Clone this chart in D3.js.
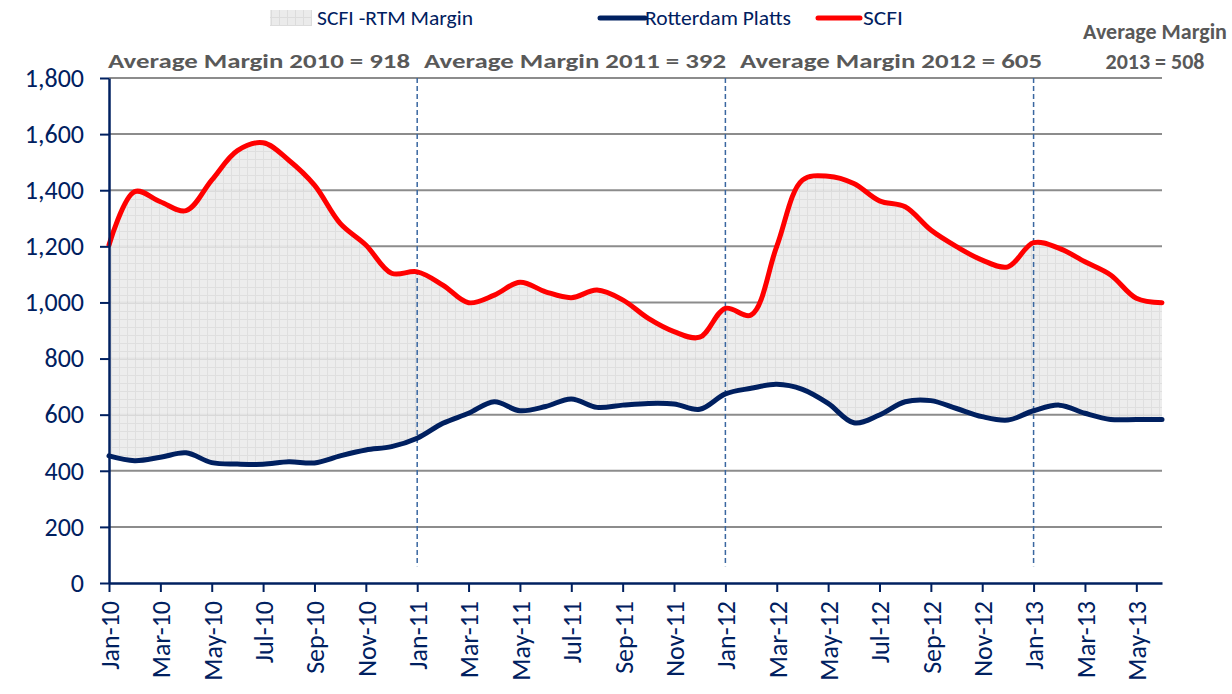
<!DOCTYPE html>
<html>
<head>
<meta charset="utf-8">
<script src="https://cdn.jsdelivr.net/npm/d3@7"></script>
<style>
  body { margin: 0; background: #fff; }
  text { font-family: Calibri, Carlito, "Open Sans", sans-serif; }
</style>
</head>
<body>
<div id="chart"></div>
<script>
// monthly data Jan-10 .. Jun-13
var months = ["Jan-10","Feb-10","Mar-10","Apr-10","May-10","Jun-10","Jul-10","Aug-10","Sep-10","Oct-10","Nov-10","Dec-10",
  "Jan-11","Feb-11","Mar-11","Apr-11","May-11","Jun-11","Jul-11","Aug-11","Sep-11","Oct-11","Nov-11","Dec-11",
  "Jan-12","Feb-12","Mar-12","Apr-12","May-12","Jun-12","Jul-12","Aug-12","Sep-12","Oct-12","Nov-12","Dec-12",
  "Jan-13","Feb-13","Mar-13","Apr-13","May-13","Jun-13"];

var scfi = [1205,1395,1359,1327,1436,1541,1569,1507,1418,1282,1205,1104,
  1109,1062,999,1026,1072,1038,1017,1044,1009,943,896,876,
  979,955,1200,1436,1450,1424,1362,1341,1258,1199,1151,1127,
  1213,1193,1145,1098,1015,999];

var rotterdam = [453,436,448,464,429,424,423,432,428,453,474,486,
  516,569,605,646,614,629,656,626,634,640,638,619,
  674,694,708,690,640,571,599,646,650,622,593,581,
  614,634,605,583,583,583];

var yTicks = [0,200,400,600,800,1000,1200,1400,1600,1800];
var yearStarts = ["Jan-11","Jan-12","Jan-13"];
var marginNotes = ["Average Margin 2010 = 918", "Average Margin 2011 = 392", "Average Margin 2012 = 605"];
var note2013 = ["Average Margin", "2013 = 508"];

var width = 1232, height = 694;
var mLeft = 109, mRight = 1162, mTop = 78, mBottom = 583;
var navy = "#002060";

var svg = d3.select("#chart").append("svg")
  .attr("width", width)
  .attr("height", height);

// hatch-like fill for the margin band
var defs = svg.append("defs");
var pat = defs.append("pattern")
  .attr("id", "margin")
  .attr("width", 8).attr("height", 8)
  .attr("patternUnits", "userSpaceOnUse");
pat.append("rect").attr("width", 8).attr("height", 8).attr("fill", "#ebebeb");
pat.append("path").attr("d", "M0,7.5H8M7.5,0V8").attr("stroke", "#dcdcdc").attr("stroke-width", 1);

var x = d3.scalePoint().domain(months).range([mLeft, mRight]);
var y = d3.scaleLinear().domain([0, 1800]).range([mBottom, mTop]);

var data = months.map(function(m, i) { return {m: m, s: scfi[i], r: rotterdam[i]}; });

// gridlines
svg.append("g")
  .selectAll("line")
  .data(yTicks.filter(function(d) { return d > 0; }))
  .enter().append("line")
    .attr("x1", mLeft).attr("x2", mRight)
    .attr("y1", function(d) { return y(d); })
    .attr("y2", function(d) { return y(d); })
    .attr("stroke", "#8c8c8c")
    .attr("stroke-width", 2);

var curve = d3.curveCatmullRom.alpha(0.5);

svg.append("path")
  .datum(data)
  .attr("fill", "url(#margin)")
  .attr("opacity", 0.92)
  .attr("d", d3.area()
    .x(function(d) { return x(d.m); })
    .y0(function(d) { return y(d.r); })
    .y1(function(d) { return y(d.s); })
    .curve(curve));

// year separators
svg.append("g")
  .selectAll("line")
  .data(yearStarts)
  .enter().append("line")
    .attr("x1", function(d) { return x(d); })
    .attr("x2", function(d) { return x(d); })
    .attr("y1", mTop)
    .attr("y2", y(60))
    .attr("stroke", "#3a67a0")
    .attr("stroke-width", 1.5)
    .attr("stroke-dasharray", "5,3");

svg.append("path")
  .datum(data)
  .attr("fill", "none")
  .attr("stroke", navy)
  .attr("stroke-width", 5)
  .attr("stroke-linecap", "round")
  .attr("d", d3.line().x(function(d) { return x(d.m); }).y(function(d) { return y(d.r); }).curve(curve));

svg.append("path")
  .datum(data)
  .attr("fill", "none")
  .attr("stroke", "#ff0000")
  .attr("stroke-width", 5)
  .attr("stroke-linecap", "round")
  .attr("d", d3.line().x(function(d) { return x(d.m); }).y(function(d) { return y(d.s); }).curve(curve));

// axes
var yAxis = svg.append("g")
  .attr("transform", "translate(" + mLeft + ",0)")
  .call(d3.axisLeft(y).tickValues(yTicks).tickSize(9).tickSizeOuter(0).tickPadding(16).tickFormat(d3.format(",")));
yAxis.select(".domain").attr("stroke", navy).attr("stroke-width", 2.5);
yAxis.selectAll(".tick line").attr("stroke", navy).attr("stroke-width", 2);
yAxis.selectAll("text")
  .attr("fill", navy)
  .style("font-size", "26px")
  .style("font-family", "Calibri, Carlito, 'Open Sans', sans-serif");

var xAxis = svg.append("g")
  .attr("transform", "translate(0," + mBottom + ")")
  .call(d3.axisBottom(x).tickValues(months.filter(function(d, i) { return i % 2 === 0; })).tickSize(9).tickSizeOuter(0));
xAxis.select(".domain").attr("stroke", navy).attr("stroke-width", 2.5);
xAxis.selectAll(".tick line").attr("stroke", navy).attr("stroke-width", 2);
xAxis.selectAll("text")
  .attr("fill", navy)
  .style("font-size", "26px")
  .style("font-family", "Calibri, Carlito, 'Open Sans', sans-serif")
  .attr("text-anchor", "end")
  .attr("transform", "rotate(-90)")
  .attr("x", -18)
  .attr("y", 0)
  .attr("dy", "0.36em");

// margin annotations, one per year block
svg.append("g")
  .selectAll("text")
  .data(marginNotes)
  .enter().append("text")
    .attr("x", function(d, i) { return mLeft - 1 + i * 316; })
    .attr("y", 68)
    .attr("fill", "#595959")
    .attr("font-weight", "bold")
    .attr("font-size", "21px")
    .attr("textLength", 302)
    .attr("lengthAdjust", "spacingAndGlyphs")
    .text(function(d) { return d; });

svg.append("g")
  .selectAll("text")
  .data(note2013)
  .enter().append("text")
    .attr("x", 1155)
    .attr("y", function(d, i) { return 39 + i * 30; })
    .attr("text-anchor", "middle")
    .attr("fill", "#595959")
    .attr("font-weight", "bold")
    .attr("font-size", "22px")
    .text(function(d) { return d; });

// legend
var legend = svg.append("g").attr("transform", "translate(0,18)");
legend.append("rect").attr("x", 270).attr("y", -8).attr("width", 42).attr("height", 16).attr("fill", "url(#margin)");
legend.append("line").attr("x1", 600).attr("x2", 645).attr("y1", 0).attr("y2", 0)
  .attr("stroke", navy).attr("stroke-width", 5).attr("stroke-linecap", "round");
legend.append("line").attr("x1", 818).attr("x2", 860).attr("y1", 0).attr("y2", 0)
  .attr("stroke", "#ff0000").attr("stroke-width", 5).attr("stroke-linecap", "round");
var legendItems = [
  {x: 317, w: 156, t: "SCFI -RTM Margin"},
  {x: 645, w: 146, t: "Rotterdam Platts"},
  {x: 863, w: 40, t: "SCFI"}
];
legend.selectAll("text.lg")
  .data(legendItems)
  .enter().append("text")
    .attr("class", "lg")
    .attr("x", function(d) { return d.x; })
    .attr("y", 7)
    .attr("fill", navy)
    .attr("font-size", "20px")
    .attr("textLength", function(d) { return d.w; })
    .attr("lengthAdjust", "spacingAndGlyphs")
    .text(function(d) { return d.t; });
</script>
</body>
</html>
